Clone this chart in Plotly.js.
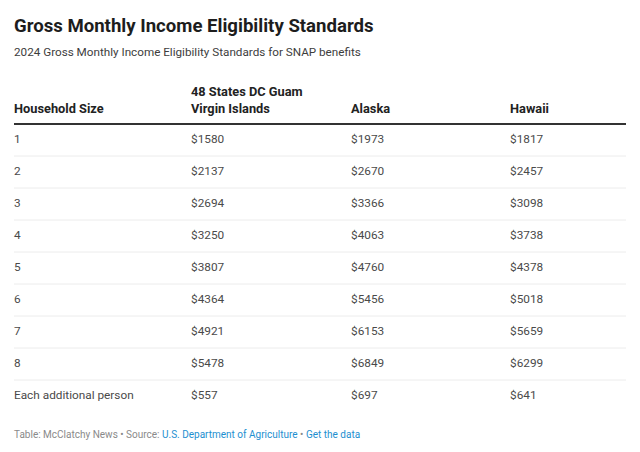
<!DOCTYPE html>
<html><head><meta charset="utf-8">
<script src="https://cdn.plot.ly/plotly-3.0.1.min.js"></script>
<style>html,body{margin:0;padding:0;background:#fff}#chart{width:640px;height:452px}</style>
</head><body><div id="chart"></div>
<script>
const headers = ["Household Size", "48 States DC Guam<br>Virgin Islands", "Alaska", "Hawaii"];
const householdSize = ["1","2","3","4","5","6","7","8","Each additional person"];
const states48 = [1580,2137,2694,3250,3807,4364,4921,5478,557];
const alaska = [1973,2670,3366,4063,4760,5456,6153,6849,697];
const hawaii = [1817,2457,3098,3738,4378,5018,5659,6299,641];

const colX = [14, 191, 351, 510];
const rowIdx = householdSize.map((_, i) => i + 1);
const fmt = v => "$" + v;
const bodyFont = {family: "Roboto, sans-serif", size: 11.8, color: "#4a4a4a"};
const headFont = {family: "Roboto, sans-serif", size: 12.8, color: "#222"};

const columns = [householdSize, states48.map(fmt), alaska.map(fmt), hawaii.map(fmt)];
const traces = columns.map((col, c) => ({
  type: "scatter", mode: "text",
  x: col.map(() => colX[c]), y: rowIdx, text: col,
  textposition: "middle right", textfont: bodyFont,
  hoverinfo: "skip", showlegend: false, cliponaxis: false
}));
traces.push({
  type: "scatter", mode: "text",
  x: colX, y: headers.map(() => 0.25), text: headers.map(h => "<b>" + h + "</b>"),
  textposition: "top right", textfont: headFont,
  hoverinfo: "skip", showlegend: false, cliponaxis: false
});

const shapes = [{type: "line", xref: "x", yref: "y", x0: 14, x1: 626, y0: 0.5, y1: 0.5, line: {color: "#333", width: 2}}];
for (let i = 1; i < householdSize.length; i++) {
  shapes.push({type: "line", xref: "x", yref: "y", x0: 14, x1: 626, y0: i + 0.5, y1: i + 0.5, line: {color: "#ececec", width: 1}});
}

const layout = {
  width: 640, height: 452,
  margin: {l: 0, r: 0, t: 0, b: 0},
  paper_bgcolor: "#fff", plot_bgcolor: "#fff",
  xaxis: {range: [0, 640], visible: false, fixedrange: true},
  yaxis: {range: [10.75, -3.375], visible: false, fixedrange: true},
  shapes: shapes,
  annotations: [
    {xref: "paper", yref: "paper", x: 12/640, y: 1 - 26/452, xanchor: "left", yanchor: "middle", showarrow: false,
     text: "<b>Gross Monthly Income Eligibility Standards</b>", font: {family: "Roboto, sans-serif", size: 18.6, color: "#1d1d1d"}},
    {xref: "paper", yref: "paper", x: 12/640, y: 1 - 52/452, xanchor: "left", yanchor: "middle", showarrow: false,
     text: "2024 Gross Monthly Income Eligibility Standards for SNAP benefits", font: {family: "Roboto, sans-serif", size: 11.7, color: "#3d3d3d"}},
    {xref: "paper", yref: "paper", x: 12/640, y: 1 - 434/452, xanchor: "left", yanchor: "middle", showarrow: false,
     text: "Table: McClatchy News • Source: <span style='color:#1d8fd0'>U.S. Department of Agriculture</span> • <span style='color:#1d8fd0'>Get the data</span>",
     font: {family: "Roboto, sans-serif", size: 10, color: "#8a8a8a"}}
  ]
};
Plotly.newPlot("chart", traces, layout, {displayModeBar: false, staticPlot: true});
</script></body></html>
